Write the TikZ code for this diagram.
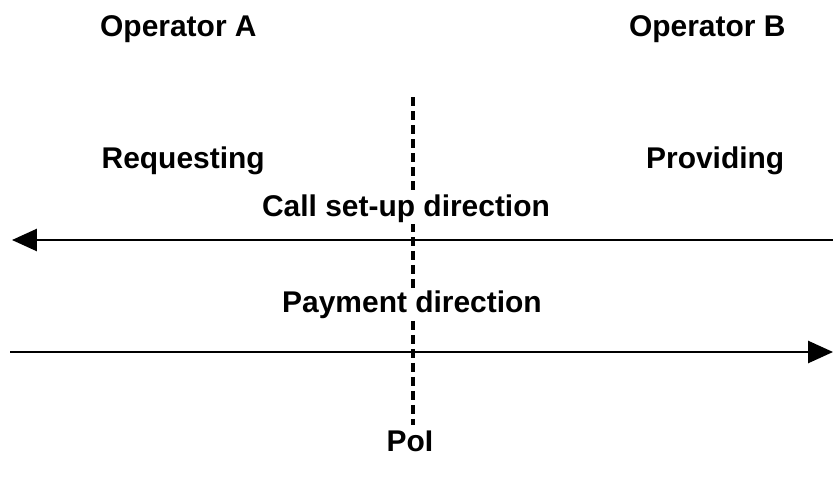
\documentclass[tikz,border=0pt]{standalone}
\usepackage{fontspec}
\setmainfont{Liberation Sans}
\usetikzlibrary{arrows.meta,positioning}

\begin{document}
\begin{tikzpicture}[font=\fontsize{21.3}{25}\selectfont\bfseries,t/.style={anchor=base,inner sep=1.5pt},m/.style={t,fill=white},a/.style={-{Triangle[length=0.62cm,width=0.55cm]},line width=1.5pt},d/.style={line width=2.3pt,dash pattern=on 0.215cm off 0.135cm}]
\useasboundingbox (0,0) rectangle (20.825,12.025);
\coordinate (pt) at (10.325,9.6);
\coordinate (pb) at (10.325,1.4);
\coordinate (cr) at (20.825,6.025);
\coordinate (cl) at (0.3,6.025);
\coordinate (pl) at (0.25,3.225);
\coordinate (pr) at (20.825,3.225);
\draw[d](pt)--(pb);
\node[t] (opa) at (4.46,11.1) {Operator A};
\node[t] (opb) at (17.68,11.1) {Operator B};
\node[t] (req) at (4.58,7.825) {Requesting};
\node[t] (prov) at (17.88,7.825) {Providing};
\node[m] (call) at (10.15,6.625) {Call set-up direction};
\node[m] (pay) at (10.3,4.225) {Payment direction};
\node[t] (poi) at (10.25,0.75) {PoI};
\draw[a](cr)--(cl);
\draw[a](pl)--(pr);
\end{tikzpicture}
\end{document}
